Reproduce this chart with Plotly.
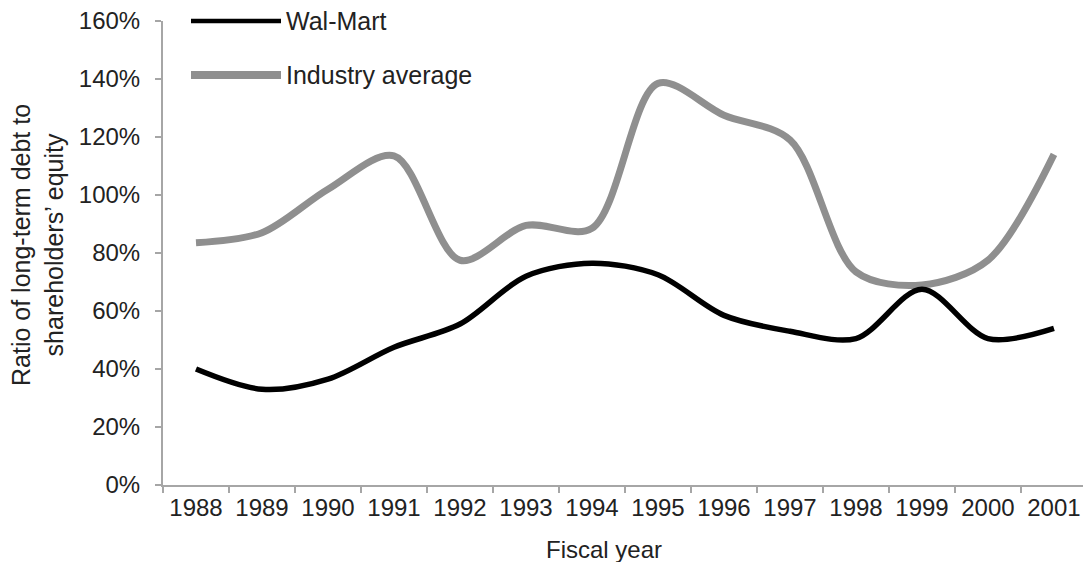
import plotly.graph_objects as go

years = ["1988", "1989", "1990", "1991", "1992", "1993", "1994",
         "1995", "1996", "1997", "1998", "1999", "2000", "2001"]
walmart = [40, 33, 36.5, 47.5, 55.5, 72, 76.5, 72.5, 58.5, 53, 50.5, 67.5, 50.5, 54]
industry = [83.5, 87, 102, 113.5, 77.5, 89.5, 88.5, 138.5, 127.5, 119, 73.5, 69, 77.5, 114]
y_ticks = [0, 20, 40, 60, 80, 100, 120, 140, 160]
y_tick_text = [f"{v}%" for v in y_ticks]

FONT = "Liberation Sans, Arial, sans-serif"
TXT = "#222222"
AX = "#a6a6a6"
GRAY = "#8f8f8f"

fig = go.Figure()
fig.add_trace(go.Scatter(x=years, y=industry, name="Industry average", mode="lines",
                         line=dict(color=GRAY, width=7, shape="spline", smoothing=0.9)))
fig.add_trace(go.Scatter(x=years, y=walmart, name="Wal-Mart", mode="lines",
                         line=dict(color="#000000", width=5.5, shape="spline", smoothing=0.9)))

W, H = 1083, 562
L, R, T, B = 163, 0, 21, 77
pw = W - L - R
ph = H - T - B

def px_x(px):
    return (px - L) / pw

def px_y(py):
    return (H - B - py) / ph

# manual legend (long line samples like the original)
legend_items = [("Wal-Mart", "#000000", 4.5, 21), ("Industry average", GRAY, 8, 75)]
shapes = []
annotations = []
for name, col, wd, py in legend_items:
    shapes.append(dict(type="line", xref="paper", yref="paper",
                       x0=px_x(191), x1=px_x(281), y0=px_y(py), y1=px_y(py),
                       line=dict(color=col, width=wd)))
    annotations.append(dict(text=name, xref="paper", yref="paper",
                            x=px_x(284), y=px_y(py), xanchor="left", yanchor="middle",
                            showarrow=False, font=dict(family=FONT, size=25, color=TXT)))

annotations.append(dict(text="Ratio of long-term debt to<br>shareholders\u2019 equity",
                        xref="paper", yref="paper", x=px_x(38), y=px_y(245),
                        xanchor="center", yanchor="middle", textangle=-90, showarrow=False,
                        font=dict(family=FONT, size=25, color=TXT)))
annotations.append(dict(text="Fiscal year", xref="paper", yref="paper",
                        x=px_x(604), y=px_y(549), xanchor="center", yanchor="middle",
                        showarrow=False, font=dict(family=FONT, size=24, color=TXT)))

fig.update_layout(
    width=W, height=H,
    margin=dict(l=L, r=R, t=T, b=B),
    paper_bgcolor="white", plot_bgcolor="white",
    showlegend=False,
    font=dict(family=FONT, size=24, color=TXT),
    shapes=shapes, annotations=annotations,
)
fig.update_xaxes(type="category", tickson="boundaries", range=[-0.5, 13.44],
                 showline=True, linecolor=AX, linewidth=2, ticks="outside",
                 tickcolor=AX, ticklen=6, tickwidth=1.5, showgrid=False, zeroline=False,
                 tickfont=dict(family=FONT, size=24, color=TXT))
fig.update_yaxes(range=[0, 160], tickvals=y_ticks, ticktext=y_tick_text,
                 showline=True, linecolor=AX, linewidth=2, ticks="outside",
                 tickcolor=AX, ticklen=6, tickwidth=1.5, showgrid=False, zeroline=False,
                 ticklabelstandoff=10,
                 tickfont=dict(family=FONT, size=24, color=TXT))

fig.write_html("out.html", config={"displayModeBar": False},
               post_script="document.body.style.margin='0';document.body.style.overflow='hidden';")
